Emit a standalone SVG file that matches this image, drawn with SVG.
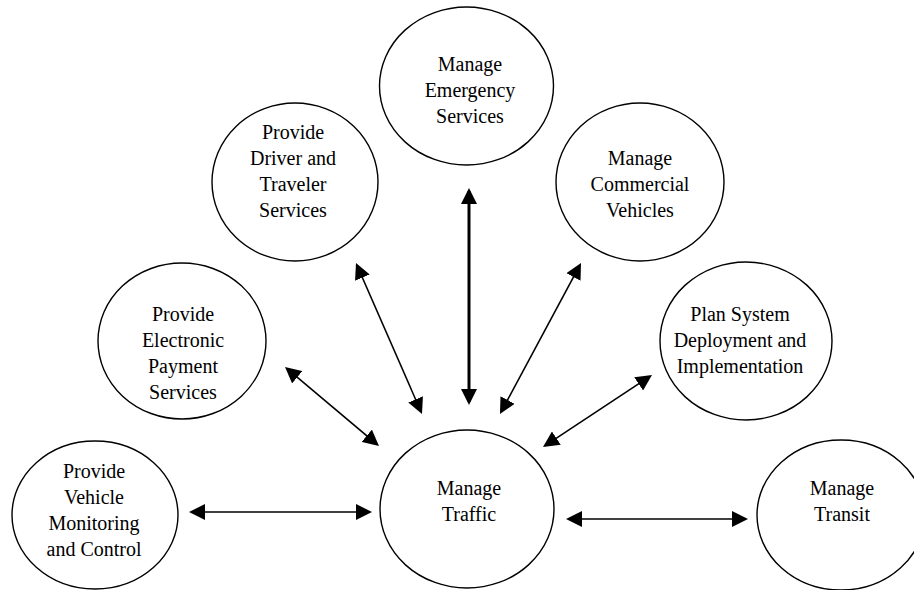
<svg xmlns="http://www.w3.org/2000/svg" width="914" height="590" viewBox="0 0 914 590">
<style>
.node ellipse{fill:#fff;stroke:#000;stroke-width:1.4}
.node text{font-family:"Liberation Serif","Times New Roman",serif;font-size:20px;fill:#000;text-anchor:middle}
.conn line{stroke:#000;stroke-width:1.6;marker-start:url(#ah);marker-end:url(#ah)}
.conn line.thick{stroke-width:3}
</style>
<defs>
<marker id="ah" viewBox="0 0 16 16" refX="13" refY="8" markerWidth="16" markerHeight="16" markerUnits="userSpaceOnUse" orient="auto-start-reverse">
<path d="M0,0 L16,8 L0,16 z" fill="#000"/>
</marker>
</defs>
<rect width="914" height="590" fill="#fff"/>
<g id="n-emergency" class="node"><ellipse cx="466.5" cy="86" rx="87" ry="79"/><text x="470" y="71">Manage</text><text x="470" y="97">Emergency</text><text x="470" y="123">Services</text></g>
<g id="n-driver" class="node"><ellipse cx="295" cy="182" rx="83" ry="79"/><text x="293" y="139">Provide</text><text x="293" y="165">Driver and</text><text x="293" y="191">Traveler</text><text x="293" y="217">Services</text></g>
<g id="n-commercial" class="node"><ellipse cx="640" cy="182" rx="84" ry="79"/><text x="640" y="165">Manage</text><text x="640" y="191">Commercial</text><text x="640" y="217">Vehicles</text></g>
<g id="n-payment" class="node"><ellipse cx="182" cy="341" rx="84" ry="78"/><text x="183" y="321">Provide</text><text x="183" y="347">Electronic</text><text x="183" y="373">Payment</text><text x="183" y="399">Services</text></g>
<g id="n-plan" class="node"><ellipse cx="746" cy="341" rx="86" ry="79"/><text x="740" y="321">Plan System</text><text x="740" y="347">Deployment and</text><text x="740" y="373">Implementation</text></g>
<g id="n-vehicle" class="node"><ellipse cx="95" cy="515" rx="83" ry="74"/><text x="94" y="478">Provide</text><text x="94" y="504">Vehicle</text><text x="94" y="530">Monitoring</text><text x="94" y="556">and Control</text></g>
<g id="n-traffic" class="node"><ellipse cx="467" cy="509" rx="87" ry="79"/><text x="469" y="495">Manage</text><text x="469" y="521">Traffic</text></g>
<g id="n-transit" class="node"><ellipse cx="841" cy="515" rx="84" ry="75"/><text x="842" y="495">Manage</text><text x="842" y="521">Transit</text></g>
<g id="connectors" class="conn">
<line x1="192" y1="512" x2="369" y2="512"/>
<line x1="287.3" y1="368.9" x2="376.7" y2="444.1"/>
<line x1="357.2" y1="265.7" x2="420.8" y2="411.3"/>
<line class="thick" x1="469" y1="191" x2="469" y2="402"/>
<line x1="579.6" y1="265.6" x2="501.4" y2="411.4"/>
<line x1="649.5" y1="376.7" x2="545.5" y2="445.3"/>
<line x1="569" y1="519" x2="745" y2="519"/>
</g>
</svg>
